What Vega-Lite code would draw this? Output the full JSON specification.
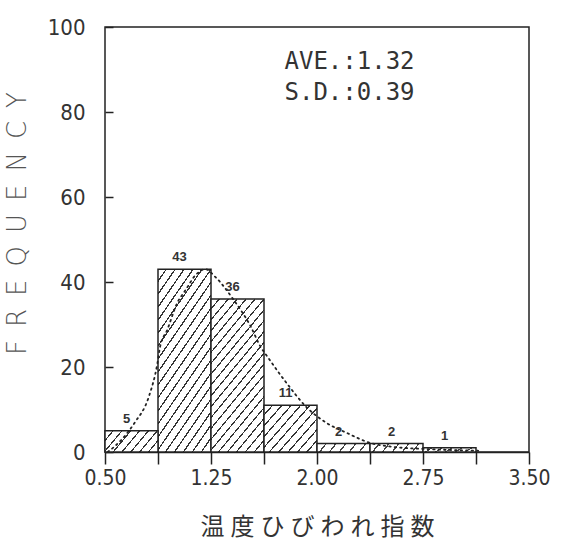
{
  "$schema": "https://vega.github.io/schema/vega-lite/v6.json",
  "width": 424,
  "height": 425,
  "autosize": "none",
  "padding": {"left": 105, "top": 27, "right": 33, "bottom": 89},
  "background": "white",
  "config": {
    "view": {"stroke": "#222", "strokeWidth": 1.5}
  },
  "datasets": {
    "bins": [
      {"lo": 0.5, "hi": 0.875, "n": 5},
      {"lo": 0.875, "hi": 1.25, "n": 43},
      {"lo": 1.25, "hi": 1.625, "n": 36},
      {"lo": 1.625, "hi": 2.0, "n": 11},
      {"lo": 2.0, "hi": 2.375, "n": 2},
      {"lo": 2.375, "hi": 2.75, "n": 2},
      {"lo": 2.75, "hi": 3.125, "n": 1}
    ],
    "curve": [
      {"x": 0.52, "y": 0},
      {"x": 0.62, "y": 3},
      {"x": 0.71, "y": 6.9},
      {"x": 0.81, "y": 13.0},
      {"x": 0.87, "y": 20.7},
      {"x": 0.89, "y": 24.8},
      {"x": 0.94, "y": 28.7},
      {"x": 1.01, "y": 35.0},
      {"x": 1.07, "y": 38.1},
      {"x": 1.14, "y": 41.6},
      {"x": 1.21, "y": 43},
      {"x": 1.28, "y": 41.2},
      {"x": 1.41, "y": 35.8},
      {"x": 1.53, "y": 29.6},
      {"x": 1.6, "y": 24.8},
      {"x": 1.65, "y": 22.4},
      {"x": 1.79, "y": 16.0},
      {"x": 1.93, "y": 10.4},
      {"x": 2.07, "y": 6.8},
      {"x": 2.21, "y": 4.5},
      {"x": 2.38, "y": 2.1},
      {"x": 2.54, "y": 1.2},
      {"x": 2.78, "y": 0.7},
      {"x": 3.14, "y": 0.3}
    ],
    "stats": [
      {"x": 1.77, "y": 91.8, "t": "AVE.:1.32"},
      {"x": 1.77, "y": 84.5, "t": "S.D.:0.39"}
    ]
  },
  "layer": [
    {
      "data": {"name": "bins"},
      "encoding": {
        "x": {
          "field": "lo", "type": "quantitative",
          "scale": {"domain": [0.5, 3.5], "nice": false, "zero": false},
          "axis": {
            "values": [0.5, 0.875, 1.25, 1.625, 2.0, 2.375, 2.75, 3.125, 3.5],
            "labelExpr": "indexof([0.5,1.25,2,2.75,3.5], datum.value) >= 0 ? format(datum.value, '.2f') : ''",
            "grid": false,
            "domain": true, "domainColor": "#222", "domainWidth": 1.5,
            "tickColor": "#222", "tickWidth": 1.5, "tickSize": 12,
            "labelFont": "DejaVu Sans Condensed, Roboto, sans-serif", "labelFontSize": 21, "labelColor": "#333",
            "labelPadding": 3, "labelFlush": false,
            "title": "温\u2005度\u2005ひ\u2005び\u2005わ\u2005れ\u2005指\u2005数",
            "titleFont": "Noto Sans CJK JP", "titleFontSize": 24, "titleFontWeight": "normal",
            "titleColor": "#333", "titlePadding": 27
          }
        },
        "x2": {"field": "hi"},
        "y": {
          "field": "n", "type": "quantitative",
          "scale": {"domain": [0, 100], "nice": false},
          "axis": {
            "values": [0, 20, 40, 60, 80, 100],
            "grid": false, "domain": false, "offset": -8,
            "tickColor": "#222", "tickWidth": 1.5, "tickSize": 8,
            "labelFont": "DejaVu Sans Condensed, Roboto, sans-serif", "labelFontSize": 22, "labelColor": "#333",
            "labelPadding": 20,
            "title": "F\u2002R\u2002E\u2002Q\u2002U\u2002E\u2002N\u2002C\u2002Y",
            "titleFont": "DejaVu Sans", "titleFontSize": 26, "titleFontWeight": 200,
            "titleColor": "#555", "titleX": -83, "titleY": 196
          }
        },
        "y2": {"datum": 0}
      },
      "layer": [
        {
          "transform": [{"filter": "datum.n >= 30"}],
          "mark": {
            "type": "rect", "stroke": "#222", "strokeWidth": 1.5,
            "fill": {
              "gradient": "linear", "x1": 0, "y1": 0, "x2": 0.507, "y2": 1.207,
              "stops": [
                {"offset": 0, "color": "#fff"}, {"offset": 0.0415, "color": "#fff"}, {"offset": 0.0415, "color": "#333"}, {"offset": 0.05, "color": "#333"},
                {"offset": 0.05, "color": "#fff"}, {"offset": 0.0915, "color": "#fff"}, {"offset": 0.0915, "color": "#333"}, {"offset": 0.1, "color": "#333"},
                {"offset": 0.1, "color": "#fff"}, {"offset": 0.1415, "color": "#fff"}, {"offset": 0.1415, "color": "#333"}, {"offset": 0.15, "color": "#333"},
                {"offset": 0.15, "color": "#fff"}, {"offset": 0.1915, "color": "#fff"}, {"offset": 0.1915, "color": "#333"}, {"offset": 0.2, "color": "#333"},
                {"offset": 0.2, "color": "#fff"}, {"offset": 0.2415, "color": "#fff"}, {"offset": 0.2415, "color": "#333"}, {"offset": 0.25, "color": "#333"},
                {"offset": 0.25, "color": "#fff"}, {"offset": 0.2915, "color": "#fff"}, {"offset": 0.2915, "color": "#333"}, {"offset": 0.3, "color": "#333"},
                {"offset": 0.3, "color": "#fff"}, {"offset": 0.3415, "color": "#fff"}, {"offset": 0.3415, "color": "#333"}, {"offset": 0.35, "color": "#333"},
                {"offset": 0.35, "color": "#fff"}, {"offset": 0.3915, "color": "#fff"}, {"offset": 0.3915, "color": "#333"}, {"offset": 0.4, "color": "#333"},
                {"offset": 0.4, "color": "#fff"}, {"offset": 0.4415, "color": "#fff"}, {"offset": 0.4415, "color": "#333"}, {"offset": 0.45, "color": "#333"},
                {"offset": 0.45, "color": "#fff"}, {"offset": 0.4915, "color": "#fff"}, {"offset": 0.4915, "color": "#333"}, {"offset": 0.5, "color": "#333"},
                {"offset": 0.5, "color": "#fff"}, {"offset": 0.5415, "color": "#fff"}, {"offset": 0.5415, "color": "#333"}, {"offset": 0.55, "color": "#333"},
                {"offset": 0.55, "color": "#fff"}, {"offset": 0.5915, "color": "#fff"}, {"offset": 0.5915, "color": "#333"}, {"offset": 0.6, "color": "#333"},
                {"offset": 0.6, "color": "#fff"}, {"offset": 0.6415, "color": "#fff"}, {"offset": 0.6415, "color": "#333"}, {"offset": 0.65, "color": "#333"},
                {"offset": 0.65, "color": "#fff"}, {"offset": 0.6915, "color": "#fff"}, {"offset": 0.6915, "color": "#333"}, {"offset": 0.7, "color": "#333"},
                {"offset": 0.7, "color": "#fff"}, {"offset": 0.7415, "color": "#fff"}, {"offset": 0.7415, "color": "#333"}, {"offset": 0.75, "color": "#333"},
                {"offset": 0.75, "color": "#fff"}, {"offset": 0.7915, "color": "#fff"}, {"offset": 0.7915, "color": "#333"}, {"offset": 0.8, "color": "#333"},
                {"offset": 0.8, "color": "#fff"}, {"offset": 0.8415, "color": "#fff"}, {"offset": 0.8415, "color": "#333"}, {"offset": 0.85, "color": "#333"},
                {"offset": 0.85, "color": "#fff"}, {"offset": 0.8915, "color": "#fff"}, {"offset": 0.8915, "color": "#333"}, {"offset": 0.9, "color": "#333"},
                {"offset": 0.9, "color": "#fff"}, {"offset": 0.9415, "color": "#fff"}, {"offset": 0.9415, "color": "#333"}, {"offset": 0.95, "color": "#333"},
                {"offset": 0.95, "color": "#fff"}, {"offset": 0.9915, "color": "#fff"}, {"offset": 0.9915, "color": "#333"}, {"offset": 1, "color": "#333"}
              ]
            }
          }
        },
        {
          "transform": [{"filter": "datum.n == 11"}],
          "mark": {
            "type": "rect", "stroke": "#222", "strokeWidth": 1.5,
            "fill": {
              "gradient": "linear", "x1": 0, "y1": 0, "x2": 1.112, "y2": 0.855,
              "stops": [
                {"offset": 0, "color": "#fff"}, {"offset": 0.083, "color": "#fff"}, {"offset": 0.083, "color": "#333"}, {"offset": 0.1, "color": "#333"},
                {"offset": 0.1, "color": "#fff"}, {"offset": 0.183, "color": "#fff"}, {"offset": 0.183, "color": "#333"}, {"offset": 0.2, "color": "#333"},
                {"offset": 0.2, "color": "#fff"}, {"offset": 0.283, "color": "#fff"}, {"offset": 0.283, "color": "#333"}, {"offset": 0.3, "color": "#333"},
                {"offset": 0.3, "color": "#fff"}, {"offset": 0.383, "color": "#fff"}, {"offset": 0.383, "color": "#333"}, {"offset": 0.4, "color": "#333"},
                {"offset": 0.4, "color": "#fff"}, {"offset": 0.483, "color": "#fff"}, {"offset": 0.483, "color": "#333"}, {"offset": 0.5, "color": "#333"},
                {"offset": 0.5, "color": "#fff"}, {"offset": 0.583, "color": "#fff"}, {"offset": 0.583, "color": "#333"}, {"offset": 0.6, "color": "#333"},
                {"offset": 0.6, "color": "#fff"}, {"offset": 0.683, "color": "#fff"}, {"offset": 0.683, "color": "#333"}, {"offset": 0.7, "color": "#333"},
                {"offset": 0.7, "color": "#fff"}, {"offset": 0.783, "color": "#fff"}, {"offset": 0.783, "color": "#333"}, {"offset": 0.8, "color": "#333"},
                {"offset": 0.8, "color": "#fff"}, {"offset": 0.883, "color": "#fff"}, {"offset": 0.883, "color": "#333"}, {"offset": 0.9, "color": "#333"},
                {"offset": 0.9, "color": "#fff"}, {"offset": 0.983, "color": "#fff"}, {"offset": 0.983, "color": "#333"}, {"offset": 1, "color": "#333"}
              ]
            }
          }
        },
        {
          "transform": [{"filter": "datum.n == 5"}],
          "mark": {
            "type": "rect", "stroke": "#222", "strokeWidth": 1.5,
            "fill": {
              "gradient": "linear", "x1": 0, "y1": 0, "x2": 1.2, "y2": 0.4,
              "stops": [
                {"offset": 0, "color": "#fff"}, {"offset": 0.104, "color": "#fff"}, {"offset": 0.104, "color": "#333"}, {"offset": 0.125, "color": "#333"},
                {"offset": 0.125, "color": "#fff"}, {"offset": 0.229, "color": "#fff"}, {"offset": 0.229, "color": "#333"}, {"offset": 0.25, "color": "#333"},
                {"offset": 0.25, "color": "#fff"}, {"offset": 0.354, "color": "#fff"}, {"offset": 0.354, "color": "#333"}, {"offset": 0.375, "color": "#333"},
                {"offset": 0.375, "color": "#fff"}, {"offset": 0.479, "color": "#fff"}, {"offset": 0.479, "color": "#333"}, {"offset": 0.5, "color": "#333"},
                {"offset": 0.5, "color": "#fff"}, {"offset": 0.604, "color": "#fff"}, {"offset": 0.604, "color": "#333"}, {"offset": 0.625, "color": "#333"},
                {"offset": 0.625, "color": "#fff"}, {"offset": 0.729, "color": "#fff"}, {"offset": 0.729, "color": "#333"}, {"offset": 0.75, "color": "#333"},
                {"offset": 0.75, "color": "#fff"}, {"offset": 0.854, "color": "#fff"}, {"offset": 0.854, "color": "#333"}, {"offset": 0.875, "color": "#333"},
                {"offset": 0.875, "color": "#fff"}, {"offset": 0.979, "color": "#fff"}, {"offset": 0.979, "color": "#333"}, {"offset": 1, "color": "#333"}
              ]
            }
          }
        },
        {
          "transform": [{"filter": "datum.n <= 2"}],
          "mark": {
            "type": "rect", "stroke": "#222", "strokeWidth": 1.5,
            "fill": {
              "gradient": "linear", "x1": 0, "y1": 0, "x2": 1.108, "y2": 0.138,
              "stops": [
                {"offset": 0, "color": "#fff"}, {"offset": 0.139, "color": "#fff"}, {"offset": 0.139, "color": "#444"}, {"offset": 0.167, "color": "#444"},
                {"offset": 0.167, "color": "#fff"}, {"offset": 0.306, "color": "#fff"}, {"offset": 0.306, "color": "#444"}, {"offset": 0.333, "color": "#444"},
                {"offset": 0.333, "color": "#fff"}, {"offset": 0.472, "color": "#fff"}, {"offset": 0.472, "color": "#444"}, {"offset": 0.5, "color": "#444"},
                {"offset": 0.5, "color": "#fff"}, {"offset": 0.639, "color": "#fff"}, {"offset": 0.639, "color": "#444"}, {"offset": 0.667, "color": "#444"},
                {"offset": 0.667, "color": "#fff"}, {"offset": 0.806, "color": "#fff"}, {"offset": 0.806, "color": "#444"}, {"offset": 0.833, "color": "#444"},
                {"offset": 0.833, "color": "#fff"}, {"offset": 0.972, "color": "#fff"}, {"offset": 0.972, "color": "#444"}, {"offset": 1, "color": "#444"}
              ]
            }
          }
        }
      ]
    },
    {
      "data": {"name": "curve"},
      "mark": {"type": "line", "stroke": "#222", "strokeWidth": 1.8, "strokeDash": [1.5, 4], "interpolate": "monotone", "strokeCap": "round"},
      "encoding": {
        "x": {"field": "x", "type": "quantitative"},
        "y": {"field": "y", "type": "quantitative"}
      }
    },
    {
      "data": {"name": "bins"},
      "transform": [{"calculate": "(datum.lo + datum.hi) / 2", "as": "mid"}],
      "mark": {"type": "text", "font": "Liberation Sans", "fontSize": 13, "fontWeight": "bold", "color": "#333", "dy": -12, "dx": -5, "baseline": "middle"},
      "encoding": {
        "x": {"field": "mid", "type": "quantitative"},
        "y": {"field": "n", "type": "quantitative"},
        "text": {"field": "n", "type": "nominal"}
      }
    },
    {
      "data": {"name": "stats"},
      "mark": {"type": "text", "font": "DejaVu Sans Mono", "fontSize": 24, "fontWeight": 200, "color": "#333", "align": "left", "baseline": "middle"},
      "encoding": {
        "x": {"field": "x", "type": "quantitative"},
        "y": {"field": "y", "type": "quantitative"},
        "text": {"field": "t", "type": "nominal"}
      }
    }
  ]
}
